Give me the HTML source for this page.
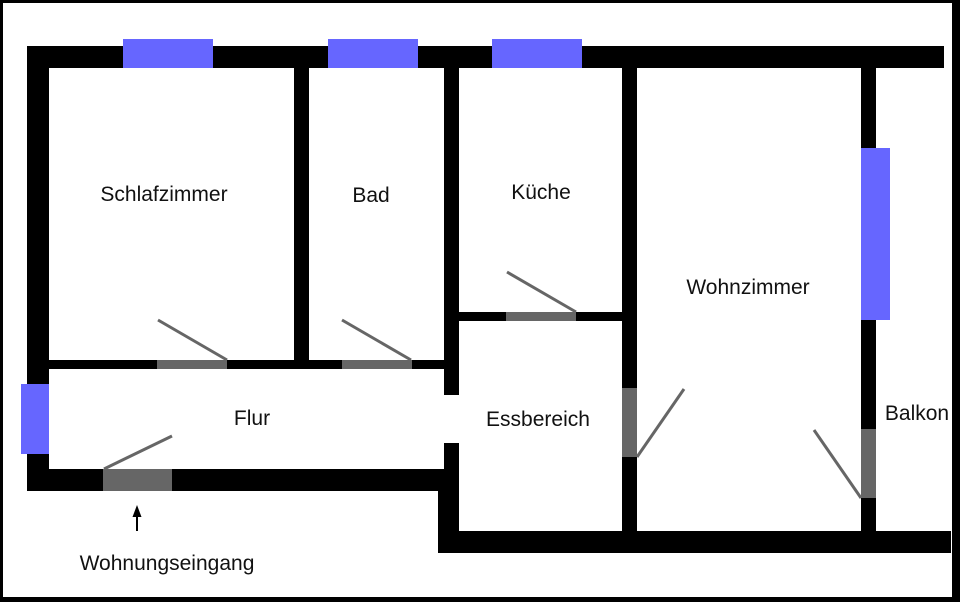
<!DOCTYPE html>
<html><head><meta charset="utf-8"><style>
html,body{margin:0;padding:0;background:#fff}
svg{display:block}
text{font-family:"Liberation Sans",Arial,sans-serif;font-size:21px;fill:#111}
</style></head><body>
<svg width="960" height="602" viewBox="0 0 960 602" xmlns="http://www.w3.org/2000/svg">
<rect x="0" y="0" width="960" height="602" fill="#fff"/>
<rect x="1.5" y="1.5" width="952" height="597" fill="none" stroke="#000" stroke-width="3"/>
<rect x="954" y="0" width="6" height="602" fill="#000"/>
<rect x="0" y="597" width="960" height="5" fill="#000"/>
<g fill="#000">
<rect x="27" y="46" width="917" height="22"/>
<rect x="27" y="46" width="22" height="445"/>
<rect x="294" y="68" width="15" height="294"/>
<rect x="444" y="68" width="15" height="327"/>
<rect x="622" y="68" width="15" height="485"/>
<rect x="861" y="68" width="15" height="464"/>
<rect x="49" y="360" width="395" height="9"/>
<rect x="459" y="312" width="163" height="9"/>
<rect x="27" y="469" width="432" height="22"/>
<rect x="444" y="443" width="15" height="48"/>
<rect x="438" y="469" width="21" height="84"/>
<rect x="438" y="531" width="513" height="22"/>
</g>
<g fill="#6666ff">
<rect x="123" y="39" width="90" height="29"/>
<rect x="328" y="39" width="90" height="29"/>
<rect x="492" y="39" width="90" height="29"/>
<rect x="861" y="148" width="29" height="172"/>
<rect x="21" y="384" width="28" height="70"/>
</g>
<g fill="#666">
<rect x="157" y="360" width="70" height="9"/>
<rect x="342" y="360" width="70" height="9"/>
<rect x="506" y="312" width="70" height="9"/>
<rect x="103" y="469" width="69" height="22"/>
<rect x="622" y="388" width="15" height="69"/>
<rect x="861" y="429" width="15" height="69"/>
</g>
<g stroke="#666" stroke-width="3" fill="none">
<line x1="158" y1="320" x2="227" y2="360"/>
<line x1="342" y1="320" x2="411" y2="360"/>
<line x1="507" y1="272" x2="576" y2="312"/>
<line x1="104" y1="469" x2="172" y2="436"/>
<line x1="637" y1="457" x2="684" y2="389"/>
<line x1="861" y1="498" x2="814" y2="430"/>
</g>
<line x1="137" y1="531" x2="137" y2="512" stroke="#000" stroke-width="2"/>
<polygon points="137,505 132.5,517 141.5,517" fill="#000"/>
<text x="164" y="201" text-anchor="middle">Schlafzimmer</text>
<text x="371" y="202" text-anchor="middle">Bad</text>
<text x="541" y="199" text-anchor="middle">Küche</text>
<text x="748" y="294" text-anchor="middle">Wohnzimmer</text>
<text x="252" y="425" text-anchor="middle">Flur</text>
<text x="538" y="426" text-anchor="middle">Essbereich</text>
<text x="917" y="420" text-anchor="middle">Balkon</text>
<text x="167" y="570" text-anchor="middle">Wohnungseingang</text>
</svg>
</body></html>
